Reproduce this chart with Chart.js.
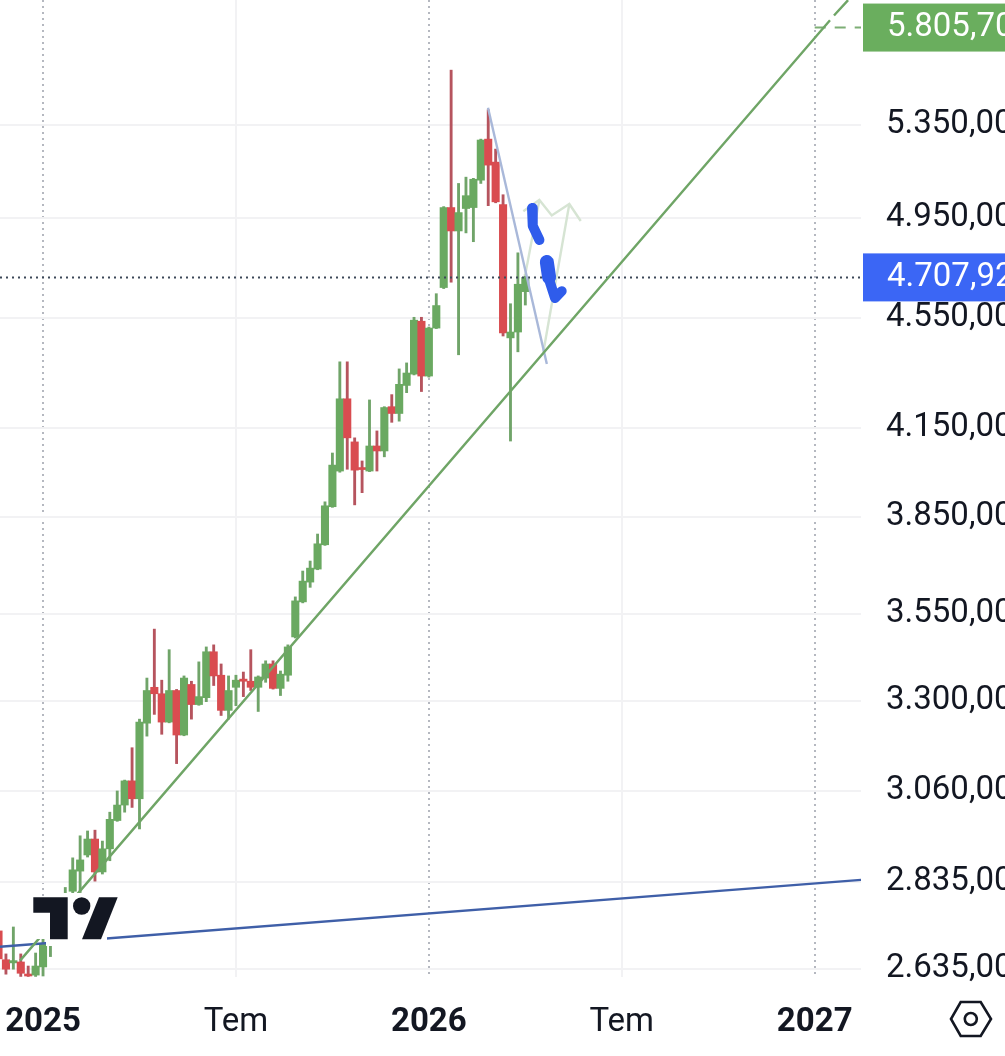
<!DOCTYPE html>
<html>
<head>
<meta charset="utf-8">
<title>Chart</title>
<script src="https://cdn.jsdelivr.net/npm/chart.js@4"></script>
<style>
    html, body { margin: 0; padding: 0; background: #ffffff; }
    #wrap { position: relative; width: 1005px; height: 1056px; overflow: hidden; }
    #priceChart { position: absolute; left: 0; top: 0; }
    svg { position: absolute; left: 0; top: 0; }
</style>
</head>
<body>
<div id="wrap">
    <canvas id="priceChart" width="1005" height="1056"></canvas>
    <svg width="1005" height="1056">
        <!-- logo with its white backing, and the settings icon -->
        <rect x="46" y="893" width="61" height="53" fill="#ffffff"></rect>
        <rect x="30" y="897" width="16" height="42" fill="#ffffff"></rect>
        <path d="M33.3 897.3H67.7V939.3H50V912.7H33.3Z" fill="#131722"></path>
        <circle cx="81.7" cy="906" r="8.7" fill="#131722"></circle>
        <path d="M99 897.3H117.7L101 939.3H82Z" fill="#131722"></path>
        <path d="M951 1019L960.7 1002H980.7L991 1019L980.7 1036H960.7Z" fill="none" stroke="#131722" stroke-width="2.6"></path>
        <circle cx="970.8" cy="1019" r="6" fill="none" stroke="#131722" stroke-width="2.6"></circle>
    </svg>
</div>
<script>
// weeks counted from the first week of 2025
const weeks = [-6, -5, -4, -3, -2, -1, 0, 1, 2, 3, 4, 5, 6, 7, 8, 9, 10, 11, 12, 13, 14, 15, 16, 17,
    18, 19, 20, 21, 22, 23, 24, 25, 26, 27, 28, 29, 30, 31, 32, 33, 34, 35, 36, 37, 38, 39, 40, 41,
    42, 43, 44, 45, 46, 47, 48, 49, 50, 51, 52, 53, 54, 55, 56, 57, 58, 59, 60, 61, 62, 63, 64, 65];

const opens = [2721, 2656, 2649, 2651, 2624, 2622, 2640, 2708, 2737, 2782, 2813, 2861, 2900, 2939, 2859, 2915, 2985, 3024,
    3086, 3040, 3239, 3338, 3320, 3242, 3329, 3207, 3346, 3290, 3309, 3439, 3372, 3274, 3338, 3361, 3355, 3338,
    3364, 3404, 3335, 3372, 3482, 3586, 3646, 3686, 3762, 3884, 4002, 4252, 4101, 4010, 4002, 4087, 4070, 4224,
    4200, 4300, 4341, 4538, 4334, 4512, 4668, 4992, 4895, 4988, 4992, 5108, 5287, 5186, 5004, 4475, 4497, 4652];
const highs = [2725, 2669, 2730, 2669, 2642, 2671, 2703, 2745, 2793, 2822, 2893, 2947, 2959, 2961, 2934, 3006, 3060, 3088,
    3173, 3250, 3364, 3505, 3358, 3445, 3332, 3370, 3355, 3410, 3453, 3459, 3404, 3370, 3372, 3381, 3445, 3370,
    3413, 3413, 3384, 3459, 3601, 3680, 3711, 3796, 3900, 4063, 4386, 4386, 4115, 4036, 4248, 4139, 4224, 4267,
    4360, 4382, 4553, 4553, 4516, 4644, 4996, 5602, 5094, 5121, 5116, 5287, 5419, 5243, 5046, 4605, 4806, 4720];
const lows = [2647, 2624, 2635, 2619, 2619, 2619, 2620, 2663, 2725, 2770, 2808, 2810, 2895, 2837, 2854, 2886, 2983, 3006,
    3018, 2964, 3204, 3263, 3209, 3240, 3131, 3205, 3250, 3288, 3298, 3343, 3260, 3250, 3287, 3312, 3329, 3271,
    3352, 3333, 3315, 3355, 3479, 3583, 3630, 3684, 3760, 3882, 3998, 4008, 3890, 3930, 4000, 4002, 4050, 4169,
    4173, 4274, 4338, 4278, 4330, 4510, 4664, 4689, 4412, 4887, 4851, 5094, 5000, 5012, 4482, 4104, 4423, 4600];
const closes = [2658, 2635, 2654, 2626, 2620, 2642, 2692, 2737, 2782, 2800, 2864, 2888, 2939, 2859, 2915, 2988, 3024, 3086,
    3040, 3242, 3329, 3320, 3242, 3329, 3207, 3364, 3290, 3312, 3439, 3370, 3274, 3329, 3358, 3355, 3338, 3367,
    3404, 3335, 3375, 3453, 3589, 3649, 3689, 3765, 3887, 4022, 4252, 4115, 4005, 4007, 4087, 4070, 4221, 4200,
    4304, 4345, 4542, 4334, 4512, 4598, 4992, 4895, 4971, 5042, 5112, 5283, 5173, 5016, 4494, 4497, 4681, 4708];

const yTicks = [2635, 2835, 3060, 3300, 3550, 3850, 4150, 4550, 4950, 5350];
const yTickLabels = ['2.635,00', '2.835,00', '3.060,00', '3.300,00', '3.550,00', '3.850,00', '4.150,00', '4.550,00', '4.950,00', '5.350,00'];
const xTicks = [0, 26, 52, 78, 104];
const xTickLabels = ['2025', 'Tem', '2026', 'Tem', '2027'];

const currentPrice = 4707.92;
const currentPriceLabel = '4.707,92';
const targetPrice = 5805.7;
const targetPriceLabel = '5.805,70';

// drawings on the chart
const supportX = [-3.1, 106.06, 106.3, 106.6, 108.5];
const supportY = [2654, 5841, null, 5865, 5941];
const baseLineX = [-5.8, 110.24];
const baseLineY = [2685, 2840];
const fallLineX = [59.97, 67.9];
const fallLineY = [5428, 4378];
const pathAX = [64.73, 66.89, 68.56, 70.93, 72.47];
const pathAY = [4977, 5024, 4959, 5007, 4936];
const pathBX = [64.96, 66.89];
const pathBY = [4714, 5024];
const pathCX = [70.93, 67.43];
const pathCY = [5007, 4422];
const scribbleAX = [65.9, 66.0, 66.9];
const scribbleAY = [4990, 4916, 4858];
const scribbleBX = [67.9, 68.1, 69.0, 69.9];
const scribbleBY = [4748, 4709, 4627, 4654];
const scribbleCX = [67.9, 68.2];
const scribbleCY = [4769, 4709];
const targetLineX = [104, 110.24];
const currentLineX = [-5.8, 110.24];

const GREEN = '#6aa961';
const RED = '#d94c50';
const GREEN_WICK = '#70a469';
const RED_WICK = '#b6545e';
const FONT = 'Roboto';

const xy = (xs, ys) => xs.map((x, i) => ({ x: x, y: ys[i] }));

function lineSet(xs, ys, color, width, extra) {
    return Object.assign({
        type: 'line',
        data: xy(xs, ys),
        borderColor: color,
        borderWidth: width,
        pointRadius: 0,
        tension: 0,
        spanGaps: false,
        order: 1
    }, extra || {});
}

const wickSet = {
    data: weeks.map((w, i) => ({ x: w, y: [lows[i], highs[i]] })),
    backgroundColor: weeks.map((w, i) => closes[i] >= opens[i] ? GREEN_WICK : RED_WICK),
    barThickness: 2.2,
    grouped: false,
    order: 4
};
const bodySet = {
    data: weeks.map((w, i) => ({ x: w, y: [opens[i], closes[i]] })),
    backgroundColor: weeks.map((w, i) => closes[i] >= opens[i] ? GREEN : RED),
    barThickness: 7.42,
    minBarLength: 2,
    grouped: false,
    order: 3
};

// price tags on the right hand axis
const priceTags = {
    id: 'priceTags',
    afterDraw(chart) {
        const c = chart.ctx;
        const y = chart.scales.y;
        const tags = [
            [targetPrice, targetPriceLabel, '#6aae5e'],
            [currentPrice, currentPriceLabel, '#3b66f5']
        ];
        tags.forEach(tag => {
            const py = y.getPixelForValue(tag[0]);
            c.save();
            c.fillStyle = tag[2];
            c.fillRect(y.left + 2, py - 24, 1005 - y.left - 2, 48);
            c.fillStyle = '#ffffff';
            c.font = '33px ' + FONT;
            c.textAlign = 'left';
            c.textBaseline = 'middle';
            c.fillText(tag[1], 887, py);
            c.restore();
        });
    }
};

const ctx = document.getElementById('priceChart').getContext('2d');
const priceChart = new Chart(ctx, {
    type: 'bar',
    data: {
        datasets: [
            wickSet,
            bodySet,
            lineSet(currentLineX, [currentPrice, currentPrice], '#3c4858', 2, { borderDash: [2, 4], order: 2 }),
            lineSet(targetLineX, [targetPrice, targetPrice], '#7dae75', 2, { borderDash: [11, 9], order: 2 }),
            lineSet(supportX, supportY, '#6fa566', 2.4),
            lineSet(baseLineX, baseLineY, '#3f5fa8', 2.4),
            lineSet(fallLineX, fallLineY, '#a9b8d9', 2.4),
            lineSet(pathAX, pathAY, '#d6e4d3', 2.4),
            lineSet(pathBX, pathBY, '#d6e4d3', 2.4),
            lineSet(pathCX, pathCY, '#d6e4d3', 2.4),
            lineSet(scribbleAX, scribbleAY, '#2f5ceb', 10, { borderCapStyle: 'round', borderJoinStyle: 'round', order: 0 }),
            lineSet(scribbleBX, scribbleBY, '#2f5ceb', 10, { borderCapStyle: 'round', borderJoinStyle: 'round', order: 0 }),
            lineSet(scribbleCX, scribbleCY, '#2f5ceb', 14, { borderCapStyle: 'round', borderJoinStyle: 'round', order: 0 })
        ]
    },
    options: {
        responsive: false,
        animation: false,
        layout: { padding: 0 },
        plugins: {
            legend: { display: false },
            title: { display: false },
            tooltip: { enabled: false }
        },
        scales: {
            x: {
                type: 'linear',
                offset: false,
                min: -5.8,
                max: 110.24,
                afterBuildTicks: scale => { scale.ticks = xTicks.map(v => ({ value: v })); },
                afterFit: scale => {
                    scale.height = 79;
                    scale.paddingLeft = 0;
                    scale.paddingRight = 0;
                },
                grid: {
                    offset: false,
                    drawTicks: false,
                    lineWidth: 2,
                    color: c => (c.index % 2 === 0 ? '#b5b8c0' : '#f2f2f4')
                },
                border: {
                    display: false,
                    dash: c => (c.index % 2 === 0 ? [2, 4] : [])
                },
                ticks: {
                    autoSkip: false,
                    maxRotation: 0,
                    minRotation: 0,
                    padding: 26,
                    color: '#131722',
                    font: c => ({ family: FONT, size: 33, weight: c.index % 2 === 0 ? 'bold' : 'normal' }),
                    callback: (v, i) => xTickLabels[i]
                }
            },
            y: {
                type: 'logarithmic',
                position: 'right',
                min: 2617.8,
                max: 5941.5,
                beginAtZero: false,
                afterBuildTicks: scale => { scale.ticks = yTicks.map(v => ({ value: v })); },
                afterFit: scale => {
                    scale.width = 144;
                    scale.paddingTop = 0;
                    scale.paddingBottom = 0;
                },
                grid: {
                    drawTicks: false,
                    lineWidth: 2,
                    color: '#f2f2f4'
                },
                border: { display: false },
                ticks: {
                    autoSkip: false,
                    padding: 25,
                    color: '#131722',
                    font: { family: FONT, size: 33 },
                    callback: (v, i) => yTickLabels[i]
                }
            }
        }
    },
    plugins: [priceTags]
});
</script>
</body>
</html>
